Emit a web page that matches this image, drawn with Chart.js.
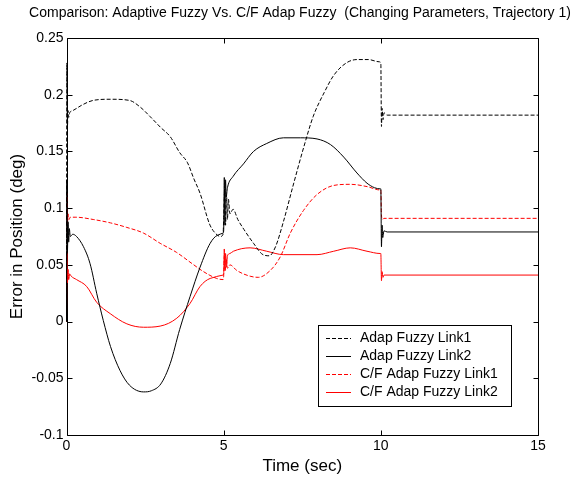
<!DOCTYPE html>
<html><head><meta charset="utf-8">
<script src="https://cdn.jsdelivr.net/npm/chart.js@4/dist/chart.umd.min.js"></script>
<style>html,body{margin:0;padding:0;background:#fff;}</style>
</head><body>
<canvas id="c" width="575" height="477" style="display:block;width:575px;height:477px"></canvas>
<script>
const titleText = "Comparison: Adaptive Fuzzy Vs. C/F Adap Fuzzy  (Changing Parameters, Trajectory 1)";
const xTitle = "Time (sec)";
const yTitle = "Error in Position (deg)";
const seriesNames = ["Adap Fuzzy Link1", "Adap Fuzzy Link2", "C/F Adap Fuzzy Link1", "C/F Adap Fuzzy Link2"];
const xTickValues = [0, 5, 10, 15];
const xTickLabels = ["0", "5", "10", "15"];
const yTickValues = [-0.1, -0.05, 0, 0.05, 0.1, 0.15, 0.2, 0.25];
const yTickLabels = ["-0.1", "-0.05", "0", "0.05", "0.1", "0.15", "0.2", "0.25"];

const adapLink1T = [0, 0.01, 0.03, 0.05, 0.07, 0.1, 0.2, 0.5, 0.85, 1.4, 2.0, 2.35, 2.65, 3.0, 3.3, 3.6, 3.85, 4.05, 4.25, 4.55, 4.7, 4.9, 4.98, 5.0, 5.03, 5.06, 5.09, 5.12, 5.15, 5.2, 5.3, 5.45, 5.65, 5.95, 6.25, 6.45, 6.65, 6.9, 7.2, 7.55, 7.85, 8.2, 8.5, 8.9, 9.25, 9.6, 9.95, 10.0, 10.02, 10.04, 10.07, 10.1, 10.2, 15];
const adapLink1V = [0, 0.228, 0.172, 0.186, 0.180, 0.184, 0.186, 0.191, 0.195, 0.196, 0.195, 0.189, 0.181, 0.171, 0.163, 0.149, 0.140, 0.126, 0.113, 0.086, 0.079, 0.075, 0.077, 0.09, 0.115, 0.085, 0.112, 0.09, 0.108, 0.095, 0.099, 0.09, 0.081, 0.069, 0.059, 0.058, 0.066, 0.088, 0.119, 0.154, 0.181, 0.202, 0.217, 0.228, 0.231, 0.231, 0.229, 0.228, 0.172, 0.188, 0.178, 0.184, 0.182, 0.182];

const adapLink2T = [0, 0.01, 0.03, 0.05, 0.07, 0.09, 0.12, 0.2, 0.32, 0.54, 0.75, 0.96, 1.17, 1.4, 1.7, 2.0, 2.45, 2.7, 3.0, 3.3, 3.6, 3.93, 4.25, 4.57, 4.8, 4.98, 5.0, 5.02, 5.04, 5.06, 5.08, 5.12, 5.3, 5.63, 5.95, 6.37, 6.9, 7.45, 7.97, 8.4, 8.82, 9.24, 9.56, 9.8, 9.98, 10.0, 10.02, 10.04, 10.06, 10.1, 10.2, 15];
const adapLink2V = [0, 0.125, 0.062, 0.088, 0.07, 0.082, 0.075, 0.077, 0.075, 0.066, 0.051, 0.025, 0.001, -0.022, -0.043, -0.056, -0.062, -0.061, -0.055, -0.037, -0.007, 0.022, 0.048, 0.069, 0.076, 0.078, 0.08, 0.127, 0.085, 0.125, 0.11, 0.118, 0.128, 0.139, 0.150, 0.157, 0.162, 0.162, 0.161, 0.156, 0.145, 0.131, 0.122, 0.118, 0.117, 0.117, 0.066, 0.085, 0.074, 0.08, 0.079, 0.079];

const cfLink1T = [0, 0.01, 0.03, 0.05, 0.08, 0.12, 0.3, 0.85, 1.4, 1.92, 2.45, 2.98, 3.5, 4.0, 4.36, 4.78, 4.98, 5.0, 5.02, 5.05, 5.08, 5.12, 5.2, 5.42, 5.84, 6.1, 6.48, 6.8, 7.12, 7.54, 7.97, 8.5, 9.03, 9.56, 9.98, 10.0, 10.02, 10.05, 10.1, 15];
const cfLink1V = [0, 0.113, 0.086, 0.095, 0.090, 0.092, 0.092, 0.090, 0.087, 0.083, 0.078, 0.069, 0.061, 0.051, 0.044, 0.038, 0.037, 0.04, 0.058, 0.045, 0.055, 0.047, 0.05, 0.045, 0.040, 0.039, 0.045, 0.057, 0.078, 0.098, 0.112, 0.120, 0.121, 0.119, 0.116, 0.116, 0.094, 0.09, 0.091, 0.091];

const cfLink2T = [0, 0.01, 0.03, 0.05, 0.07, 0.1, 0.15, 0.32, 0.64, 0.96, 1.39, 1.92, 2.45, 2.98, 3.51, 3.93, 4.25, 4.57, 4.98, 5.0, 5.02, 5.04, 5.06, 5.09, 5.12, 5.2, 5.31, 5.84, 6.37, 6.9, 7.97, 8.5, 9.03, 9.56, 9.98, 10.0, 10.02, 10.04, 10.07, 10.1, 15];
const cfLink2V = [0, 0.06, 0.034, 0.046, 0.037, 0.042, 0.040, 0.037, 0.031, 0.017, 0.007, -0.002, -0.005, -0.004, 0.003, 0.016, 0.031, 0.038, 0.041, 0.042, 0.064, 0.045, 0.06, 0.048, 0.058, 0.06, 0.062, 0.065, 0.062, 0.059, 0.059, 0.062, 0.065, 0.062, 0.060, 0.060, 0.036, 0.044, 0.039, 0.041, 0.041];

const FONT = 'Arial, "Liberation Sans", sans-serif';
function pts(t, v) { return t.map((x, i) => ({ x: x, y: v[i] })); }

const boxPlugin = {
  id: 'box',
  beforeDatasetsDraw(chart) {
    const { ctx, chartArea: a, scales } = chart;
    ctx.save();
    ctx.strokeStyle = '#000';
    ctx.lineWidth = 1;
    const L = Math.round(a.left) + 0.5, R = Math.round(a.right) + 0.5;
    const T = Math.round(a.top) + 0.5, B = Math.round(a.bottom) + 0.5;
    ctx.beginPath();
    ctx.rect(L, T, R - L, B - T);
    const tl = 5;
    scales.x.ticks.forEach(tk => {
      const px = Math.round(scales.x.getPixelForValue(tk.value)) + 0.5;
      ctx.moveTo(px, B); ctx.lineTo(px, B - tl);
      ctx.moveTo(px, T); ctx.lineTo(px, T + tl);
    });
    scales.y.ticks.forEach(tk => {
      const py = Math.round(scales.y.getPixelForValue(tk.value)) + 0.5;
      ctx.moveTo(L, py); ctx.lineTo(L + tl, py);
      ctx.moveTo(R, py); ctx.lineTo(R - tl, py);
    });
    ctx.stroke();
    ctx.fillStyle = '#000';
    ctx.font = '14px ' + FONT;
    ctx.textAlign = 'center';
    ctx.textBaseline = 'middle';
    ctx.fillText(titleText, 300, 13);
    ctx.restore();
  },
  afterDatasetsDraw(chart) {
    const { ctx } = chart;
    ctx.save();
    const bx = 318.5, by = 325.5, bw = 193, bh = 81;
    ctx.fillStyle = '#fff';
    ctx.fillRect(bx, by, bw, bh);
    ctx.strokeStyle = '#000';
    ctx.lineWidth = 1;
    ctx.strokeRect(bx, by, bw, bh);
    ctx.font = '14px ' + FONT;
    ctx.textAlign = 'left';
    ctx.textBaseline = 'middle';
    chart.data.datasets.forEach((ds, i) => {
      const y = Math.round(338 + i * 17.9) + 0.5;
      ctx.strokeStyle = ds.borderColor;
      ctx.setLineDash(ds.borderDash || []);
      ctx.beginPath();
      ctx.moveTo(326, y); ctx.lineTo(351, y);
      ctx.stroke();
      ctx.setLineDash([]);
      ctx.fillStyle = '#000';
      ctx.fillText(ds.label, 360, y);
    });
    ctx.restore();
  }
};

const common = { borderWidth: 1, pointRadius: 0, fill: false, cubicInterpolationMode: 'monotone', clip: 3 };
new Chart(document.getElementById('c'), {
  type: 'line',
  data: {
    datasets: [
      Object.assign({ label: seriesNames[0], data: pts(adapLink1T, adapLink1V), borderColor: '#000000', borderDash: [4, 2] }, common),
      Object.assign({ label: seriesNames[1], data: pts(adapLink2T, adapLink2V), borderColor: '#000000' }, common),
      Object.assign({ label: seriesNames[2], data: pts(cfLink1T, cfLink1V), borderColor: '#ff0000', borderDash: [4, 2] }, common),
      Object.assign({ label: seriesNames[3], data: pts(cfLink2T, cfLink2V), borderColor: '#ff0000' }, common)
    ]
  },
  options: {
    responsive: false,
    animation: false,
    devicePixelRatio: 1,
    layout: { padding: { left: 0, right: 37, top: 38, bottom: 0 } },
    plugins: { legend: { display: false }, title: { display: false }, tooltip: { enabled: false } },
    scales: {
      x: {
        type: 'linear', min: 0, max: 15,
        afterBuildTicks: s => { s.ticks = xTickValues.map(v => ({ value: v })); },
        afterFit: s => { s.height = 42; },
        grid: { display: false, drawTicks: false },
        border: { display: false },
        ticks: { color: '#000', font: { family: FONT, size: 14 }, padding: 3, maxRotation: 0,
          callback: (v) => xTickLabels[xTickValues.indexOf(v)] },
        title: { display: true, text: xTitle, color: '#000', font: { family: FONT, size: 17 }, padding: { top: 0, bottom: 0 } }
      },
      y: {
        type: 'linear', min: -0.1, max: 0.25,
        afterBuildTicks: s => { s.ticks = yTickValues.map(v => ({ value: v })); },
        afterFit: s => { s.width = 66.5; },
        grid: { display: false, drawTicks: false },
        border: { display: false },
        ticks: { color: '#000', font: { family: FONT, size: 14 }, padding: 3,
          callback: (v) => yTickLabels[yTickValues.indexOf(v)] },
        title: { display: true, text: yTitle, color: '#000', font: { family: FONT, size: 17 }, padding: { top: 7, bottom: 0 } }
      }
    }
  },
  plugins: [boxPlugin]
});
</script>
</body></html>
